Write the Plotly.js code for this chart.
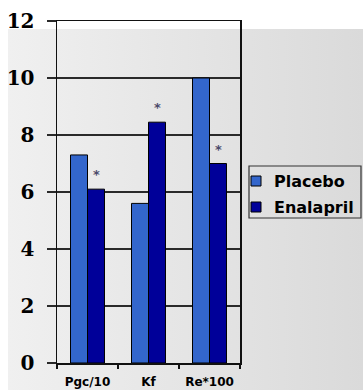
<!DOCTYPE html>
<html>
<head>
<meta charset="utf-8">
<script src="https://cdn.plot.ly/plotly-3.0.1.min.js"></script>
<style>
  html, body { margin: 0; padding: 0; background: #ffffff; }
  #wrap { position: relative; width: 363px; height: 390px; overflow: hidden; }
  #backdrop {
    position: absolute; left: 8px; top: 29px; width: 355px; height: 361px;
    background: linear-gradient(to right, #f0f0f0, #dadada);
  }
  #chart { position: absolute; left: 0; top: 0; width: 363px; height: 390px; }
</style>
</head>
<body>
<div id="wrap">
  <div id="backdrop"></div>
  <div id="chart"></div>
</div>
<script>
// Renal haemodynamics: placebo vs enalapril
const categories = ['Pgc/10', 'Kf', 'Re*100'];
const placebo = [7.3, 5.6, 10.0];
const enalapril = [6.1, 8.45, 7.0];
const sigMarks = ['*', '*', '*'];          // significance flags over the enalapril bars
const seriesNames = ['Placebo', 'Enalapril'];
const yTicks = [0, 2, 4, 6, 8, 10, 12];

const colors = ['#3366cc', '#000099'];

// plot area in pixels (used to place the legend box in paper units)
const W = 363, H = 390;
const M = { l: 57, r: 123, t: 21, b: 27 };
const pw = W - M.l - M.r, ph = H - M.t - M.b;
const px = x => (x - M.l) / pw;
const py = y => (H - M.b - y) / ph;

const traces = [placebo, enalapril].map((vals, i) => ({
  type: 'bar',
  name: seriesNames[i],
  x: categories,
  y: vals,
  marker: { color: colors[i], line: { color: '#000000', width: 1 } },
  hoverinfo: 'skip'
}));

const annotations = categories.map((c, i) => ({
  x: c, y: enalapril[i], xref: 'x', yref: 'y',
  text: sigMarks[i], showarrow: false,
  xshift: 8.5, yshift: 5,
  yanchor: 'bottom',
  font: { family: 'DejaVu Sans', size: 13, weight: 'bold', color: '#4a4a6a' }
}));

// legend: frame, swatches and labels
const legendRows = [181, 207];
const shapes = [
  { type: 'rect', xref: 'paper', yref: 'paper',
    x0: px(249), x1: px(361), y0: py(218), y1: py(166),
    line: { color: '#333333', width: 1.2 }, fillcolor: 'rgba(0,0,0,0)' }
];
seriesNames.forEach((n, i) => {
  const cy = legendRows[i];
  shapes.push({ type: 'rect', xref: 'paper', yref: 'paper',
    x0: px(251), x1: px(261), y0: py(cy + 5), y1: py(cy - 5),
    line: { color: '#000000', width: 1 }, fillcolor: colors[i] });
  annotations.push({ xref: 'paper', yref: 'paper', x: px(272), y: py(cy),
    xanchor: 'left', yanchor: 'middle', showarrow: false, text: '<b>' + n + '</b>',
    font: { family: 'DejaVu Sans', size: 16, color: '#000000' } });
});

const layout = {
  width: W, height: H, autosize: false,
  margin: M,
  paper_bgcolor: 'rgba(0,0,0,0)',
  plot_bgcolor: 'rgba(0,0,0,0)',
  barmode: 'group', bargap: 0.443, bargroupgap: 0,
  showlegend: false,
  hovermode: false,
  xaxis: {
    type: 'category',
    showline: true, linecolor: '#111111', linewidth: 1.5, mirror: true,
    ticks: 'outside', tickson: 'boundaries', ticklen: 4, tickcolor: '#111111', tickwidth: 1.2,
    showgrid: false,
    ticklabelstandoff: 7,
    tickfont: { family: 'DejaVu Sans', size: 12, weight: 'bold', color: '#000000' }
  },
  yaxis: {
    range: [0, 12], tickvals: yTicks, ticktext: yTicks.map(String),
    showline: true, linecolor: '#111111', linewidth: 1.5, mirror: true,
    showgrid: true, gridcolor: '#2a2a2a', gridwidth: 1.2,
    zeroline: false,
    ticks: 'outside', ticklen: 9, tickcolor: '#2a2a2a', tickwidth: 1.2,
    ticklabelstandoff: 8,
    tickfont: { family: 'DejaVu Serif', size: 20, weight: 'bold', color: '#000000' }
  },
  shapes: shapes,
  annotations: annotations
};

Plotly.newPlot('chart', traces, layout, { staticPlot: true, displayModeBar: false });
</script>
</body>
</html>
